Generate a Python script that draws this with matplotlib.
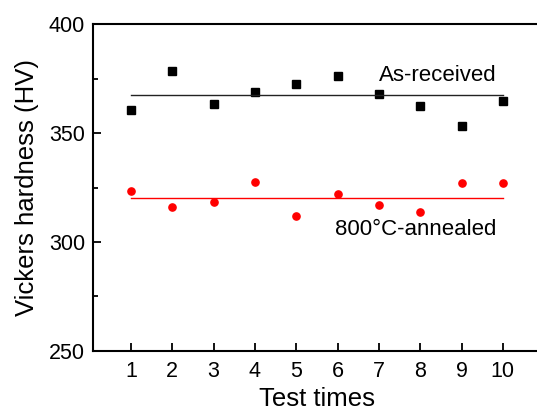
import matplotlib
matplotlib.use("Agg")
import matplotlib.pyplot as plt
import numpy as np

plt.rcParams['font.family'] = ['Liberation Sans', 'DejaVu Sans']

tests = [1, 2, 3, 4, 5, 6, 7, 8, 9, 10]
as_received = [360.7, 378.5, 363.5, 368.9, 372.7, 376.1, 367.8, 362.3, 353.1, 364.6]
annealed = [323.5, 315.9, 318.5, 327.3, 311.7, 321.8, 316.9, 313.9, 327.0, 327.0]
as_received_mean = 367.3
annealed_mean = 320.4

W, H = 537, 411
fig = plt.figure(figsize=(W/100, H/100), dpi=100)
left, right, top, bottom = 93.3, 540, 24.3, 350.7
ax = fig.add_axes([left/W, 1-bottom/H, (right-left)/W, (bottom-top)/H])

ax.plot(tests, as_received, 's', color='black', markersize=5.2, linestyle='none')
ax.plot(tests, annealed, 'o', color='#ff0000', markersize=5.2, linestyle='none')
ax.plot([tests[0], tests[-1]], [as_received_mean]*2, color='#222222', lw=1.0)
ax.plot([tests[0], tests[-1]], [annealed_mean]*2, color='#ff0000', lw=1.0)

ax.text(7.0, 376.5, 'As-received', fontsize=16, va='center', ha='left')
ax.text(5.93, 305.7, '800°C-annealed', fontsize=16, va='center', ha='left')

ax.set_xlim(0.088, 10.9)
ax.set_ylim(250, 400)
ax.set_xticks(tests)
ax.set_yticks([250, 300, 350, 400])
ax.set_yticks([275, 325, 375], minor=True)
ax.tick_params(axis='both', which='major', direction='in', length=6, width=1.3, labelsize=15.5)
ax.tick_params(axis='x', which='major', pad=7.5)
ax.tick_params(axis='y', which='major', pad=6)
ax.tick_params(axis='y', which='minor', direction='in', length=3.5, width=1.3)
ax.tick_params(top=False, right=False)
for s in ax.spines.values():
    s.set_linewidth(1.5)
ax.set_xlabel('Test times', fontsize=18.5, labelpad=3.5)
ax.set_ylabel('Vickers hardness (HV)', fontsize=18.5, labelpad=7)

fig.savefig('out.png', dpi=100)
